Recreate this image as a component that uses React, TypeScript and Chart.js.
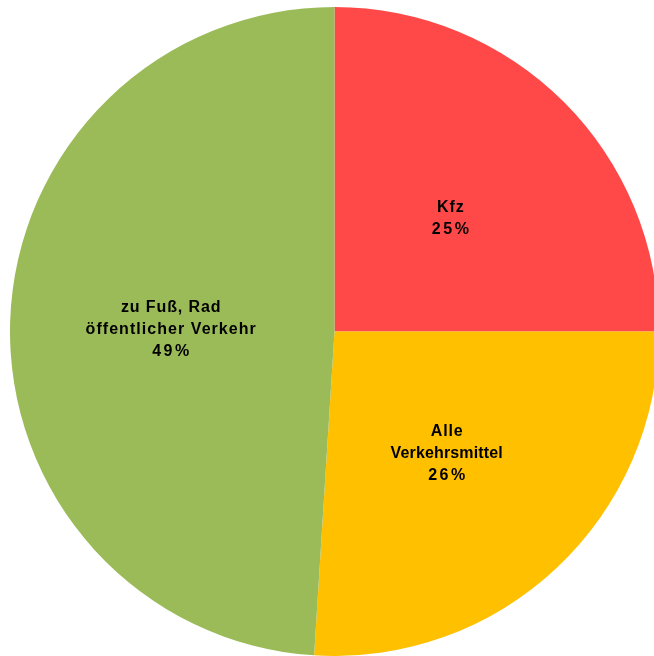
import React, { useEffect, useRef } from "react";
import { Chart, registerables } from "chart.js";

Chart.register(...registerables);

const categories: string[][] = [["Kfz"], ["Alle", "Verkehrsmittel"], ["zu Fuß, Rad", "öffentlicher Verkehr"]];
const values: number[] = [25, 26, 49];
const percentLabels: string[] = ["25%", "26%", "49%"];
const colors: string[] = ["#FF4949", "#FFC000", "#9BBB59"];

// per-line letter spacing (px) to mimic the original renderer's text widths
const nameSpacing: number[][] = [[1.0], [0.8, 0.15], [0.9, 1.05]];
const percentSpacing = 2.5;

const labelPlugin = {
  id: "sliceLabels",
  afterDatasetsDraw(chart: any) {
    const ctx = chart.ctx as CanvasRenderingContext2D;
    const meta = chart.getDatasetMeta(0);
    ctx.save();
    ctx.fillStyle = "#000000";
    ctx.font = "bold 16px 'Liberation Sans', Arial, sans-serif";
    ctx.textAlign = "center";
    ctx.textBaseline = "alphabetic";
    const lineH = 22;
    meta.data.forEach((arc: any, i: number) => {
      const { x, y, startAngle, endAngle, outerRadius } = arc.getProps(
        ["x", "y", "startAngle", "endAngle", "outerRadius"],
        true
      );
      const mid = (startAngle + endAngle) / 2;
      const d = outerRadius * 0.505;
      const cx = x + Math.cos(mid) * d;
      const cy = y + Math.sin(mid) * d;
      const lines = [...categories[i], percentLabels[i]];
      const spacings = [...nameSpacing[i], percentSpacing];
      const n = lines.length;
      lines.forEach((t, k) => {
        const by = cy + (k - (n - 1) / 2) * lineH + 7.5;
        const ls = spacings[k] || 0;
        (ctx as any).letterSpacing = ls + "px";
        ctx.fillText(t, cx + ls / 2, by);
      });
    });
    ctx.restore();
  },
};

export default function App() {
  const ref = useRef<HTMLCanvasElement | null>(null);
  useEffect(() => {
    if (!ref.current) return;
    const chart = new Chart(ref.current, {
      type: "pie",
      data: {
        labels: categories.map((c) => c.join(" ")),
        datasets: [
          {
            data: values,
            backgroundColor: colors,
            borderWidth: 0,
          },
        ],
      },
      options: {
        animation: false,
        responsive: true,
        maintainAspectRatio: false,
        layout: { padding: 0 },
        plugins: {
          legend: { display: false },
          tooltip: { enabled: false },
        },
      },
      plugins: [labelPlugin],
    });
    return () => chart.destroy();
  }, []);
  return (
    <div style={{ position: "fixed", left: 0, top: 0, right: 0, bottom: 0, overflow: "hidden", background: "#ffffff" }}>
      <div style={{ position: "absolute", left: 10, top: 7, width: 649, height: 649 }}>
        <canvas ref={ref} />
      </div>
    </div>
  );
}
